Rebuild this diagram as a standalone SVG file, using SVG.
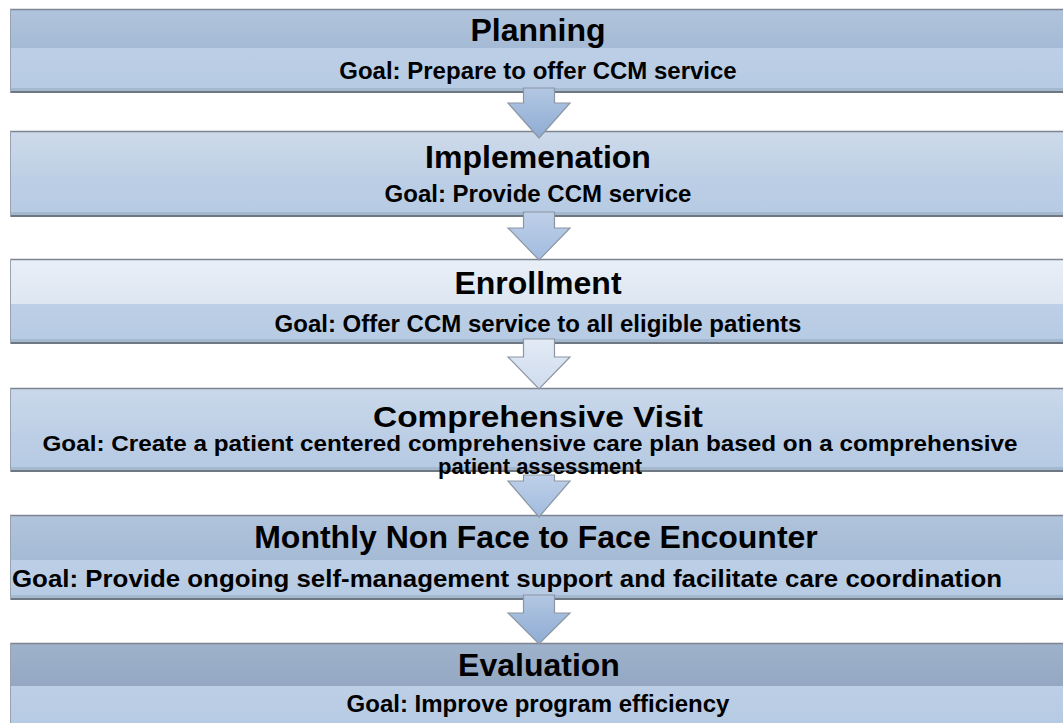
<svg xmlns="http://www.w3.org/2000/svg" width="1063" height="723" viewBox="0 0 1063 723">
  <defs>
    <style>
      .title { font-family: "Liberation Sans", Arial, sans-serif; font-weight: bold; font-size: 32px; fill: #000; text-anchor: middle; }
      .goal { font-family: "Liberation Sans", Arial, sans-serif; font-weight: bold; font-size: 24px; fill: #000; text-anchor: middle; }
      .tight-title { font-size: 30px; }
      .tight-goal { font-size: 22px; }
      .goalband { fill: url(#goalFill); }
      .edge-top { stroke: #7d8592; stroke-width: 1.5; }
      .edge-bot { stroke: #6f7783; stroke-width: 2; }
      .edge-left { stroke: #98a2b0; stroke-width: 1; }
      .shade { fill: #a4b8d0; }
      .arrow { stroke: #8c96a3; stroke-width: 1.2; stroke-linejoin: miter; }
    </style>
    <!-- title band fills, one per stage -->
    <linearGradient id="t1" x1="0" y1="0" x2="0" y2="1">
      <stop offset="0" stop-color="#b0c4dc"/>
      <stop offset="1" stop-color="#a5bad4"/>
    </linearGradient>
    <linearGradient id="t2" x1="0" y1="0" x2="0" y2="1">
      <stop offset="0" stop-color="#cddaea"/>
      <stop offset="1" stop-color="#bfd0e5"/>
    </linearGradient>
    <linearGradient id="t3" x1="0" y1="0" x2="0" y2="1">
      <stop offset="0" stop-color="#e9eff7"/>
      <stop offset="1" stop-color="#dde6f2"/>
    </linearGradient>
    <linearGradient id="t4" x1="0" y1="0" x2="0" y2="1">
      <stop offset="0" stop-color="#cad8ea"/>
      <stop offset="1" stop-color="#bed0e6"/>
    </linearGradient>
    <linearGradient id="t5" x1="0" y1="0" x2="0" y2="1">
      <stop offset="0" stop-color="#b0c4dc"/>
      <stop offset="1" stop-color="#a5bad4"/>
    </linearGradient>
    <linearGradient id="t6" x1="0" y1="0" x2="0" y2="1">
      <stop offset="0" stop-color="#9fb2cb"/>
      <stop offset="1" stop-color="#94a8c3"/>
    </linearGradient>
    <linearGradient id="goalFill" x1="0" y1="0" x2="0" y2="1">
      <stop offset="0" stop-color="#bccfe6"/>
      <stop offset="1" stop-color="#b6cae3"/>
    </linearGradient>
    <!-- arrow fills -->
    <linearGradient id="arrowDark" x1="0" y1="0" x2="0" y2="1">
      <stop offset="0" stop-color="#b2c7e2"/>
      <stop offset="1" stop-color="#8facd4"/>
    </linearGradient>
    <linearGradient id="arrowMid" x1="0" y1="0" x2="0" y2="1">
      <stop offset="0" stop-color="#bfd0e8"/>
      <stop offset="1" stop-color="#a1bbdf"/>
    </linearGradient>
    <linearGradient id="arrowLight" x1="0" y1="0" x2="0" y2="1">
      <stop offset="0" stop-color="#e2eaf5"/>
      <stop offset="1" stop-color="#cfdcee"/>
    </linearGradient>
  </defs>

  <rect width="1063" height="723" fill="#ffffff"/>

  <!-- Stage 1 -->
  <g id="planning">
    <rect x="10" y="9" width="1060" height="39" fill="url(#t1)"/>
    <rect class="goalband" x="10" y="48" width="1060" height="45"/>
    <rect class="shade" x="10" y="88" width="1060" height="3"/>
    <line class="edge-top" x1="10" y1="9.5" x2="1063" y2="9.5"/>
    <line class="edge-bot" x1="10" y1="92" x2="1063" y2="92"/>
    <line class="edge-left" x1="10.5" y1="9" x2="10.5" y2="93"/>
    <text class="title" x="538" y="41">Planning</text>
    <text class="goal" x="538" y="79">Goal: Prepare to offer CCM service</text>
  </g>

  <!-- Stage 2 -->
  <g id="implementation">
    <rect x="10" y="131" width="1060" height="45" fill="url(#t2)"/>
    <rect class="goalband" x="10" y="176" width="1060" height="41"/>
    <rect class="shade" x="10" y="212" width="1060" height="3"/>
    <line class="edge-top" x1="10" y1="131.5" x2="1063" y2="131.5"/>
    <line class="edge-bot" x1="10" y1="216" x2="1063" y2="216"/>
    <line class="edge-left" x1="10.5" y1="131" x2="10.5" y2="217"/>
    <text class="title" x="538" y="168">Implemenation</text>
    <text class="goal" x="538" y="202">Goal: Provide CCM service</text>
  </g>

  <!-- Stage 3 -->
  <g id="enrollment">
    <rect x="10" y="259" width="1060" height="45" fill="url(#t3)"/>
    <rect class="goalband" x="10" y="304" width="1060" height="40"/>
    <rect class="shade" x="10" y="339" width="1060" height="3"/>
    <line class="edge-top" x1="10" y1="259.5" x2="1063" y2="259.5"/>
    <line class="edge-bot" x1="10" y1="343" x2="1063" y2="343"/>
    <line class="edge-left" x1="10.5" y1="259" x2="10.5" y2="344"/>
    <text class="title" x="538" y="294">Enrollment</text>
    <text class="goal" x="538" y="332">Goal: Offer CCM service to all eligible patients</text>
  </g>

  <!-- Stage 4: three tightly stacked lines -->
  <g id="comprehensive-visit">
    <rect x="10" y="388" width="1060" height="44" fill="url(#t4)"/>
    <rect class="goalband" x="10" y="432" width="1060" height="40"/>
    <rect class="shade" x="10" y="467" width="1060" height="3"/>
    <line class="edge-top" x1="10" y1="388.5" x2="1063" y2="388.5"/>
    <line class="edge-bot" x1="10" y1="471" x2="1063" y2="471"/>
    <line class="edge-left" x1="10.5" y1="388" x2="10.5" y2="472"/>
    <text class="title tight-title" x="538" y="427" textLength="330" lengthAdjust="spacingAndGlyphs">Comprehensive Visit</text>
    <text class="goal tight-goal" x="530" y="451" textLength="975" lengthAdjust="spacingAndGlyphs">Goal: Create a patient centered comprehensive care plan based on a comprehensive</text>
    <text class="goal tight-goal" x="540" y="474" textLength="204" lengthAdjust="spacingAndGlyphs">patient assessment</text>
  </g>

  <!-- Stage 5 -->
  <g id="monthly-encounter">
    <rect x="10" y="515" width="1060" height="45" fill="url(#t5)"/>
    <rect class="goalband" x="10" y="560" width="1060" height="40"/>
    <rect class="shade" x="10" y="595" width="1060" height="3"/>
    <line class="edge-top" x1="10" y1="515.5" x2="1063" y2="515.5"/>
    <line class="edge-bot" x1="10" y1="599" x2="1063" y2="599"/>
    <line class="edge-left" x1="10.5" y1="515" x2="10.5" y2="600"/>
    <text class="title" x="536" y="548">Monthly Non Face to Face Encounter</text>
    <text class="goal" x="507" y="587" textLength="990" lengthAdjust="spacingAndGlyphs">Goal: Provide ongoing self-management support and facilitate care coordination</text>
  </g>

  <!-- Stage 6 -->
  <g id="evaluation">
    <rect x="10" y="643" width="1060" height="43" fill="url(#t6)"/>
    <rect class="goalband" x="10" y="686" width="1060" height="40"/>
    <line class="edge-top" x1="10" y1="643.5" x2="1063" y2="643.5"/>
    <line class="edge-left" x1="10.5" y1="643" x2="10.5" y2="723"/>
    <text class="title" x="539" y="676">Evaluation</text>
    <text class="goal" x="538" y="712">Goal: Improve program efficiency</text>
  </g>

  <!-- Block arrows between stages -->
  <g id="connectors">
    <path class="arrow" fill="url(#arrowDark)" d="M523.5 88 H554.5 V103 H570 L539 138 L508 103 H523.5 Z"/>
    <path class="arrow" fill="url(#arrowMid)" d="M523.5 212 H554.5 V228 H570 L539 260 L508 228 H523.5 Z"/>
    <path class="arrow" fill="url(#arrowLight)" d="M523.5 339 H554.5 V357 H570 L539 389 L508 357 H523.5 Z"/>
    <path class="arrow" fill="url(#arrowMid)" d="M523.5 475 H554.5 V481 H570 L539 517 L508 481 H523.5 Z"/>
    <path class="arrow" fill="url(#arrowDark)" d="M523.5 595 H554.5 V613 H570 L539 644 L508 613 H523.5 Z"/>
  </g>
</svg>
